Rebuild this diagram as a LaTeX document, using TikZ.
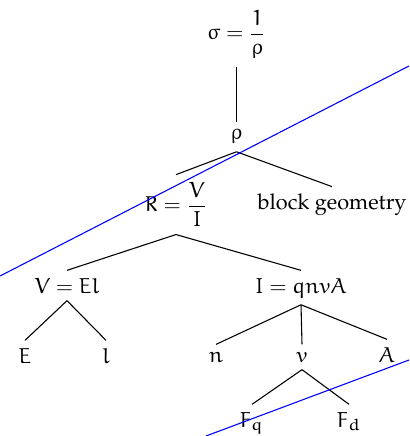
\documentclass[tikz,border=0pt]{standalone}
\usepackage[T1]{fontenc}
\IfFileExists{mathpazo.sty}{\usepackage{mathpazo}}{}
\IfFileExists{euler.sty}{\usepackage{euler}}{}
\begin{document}
\begin{tikzpicture}[x=0.461pt,y=-0.461pt,
  lbl/.style={anchor=base,inner sep=0.3333em},
  edge/.style={draw=black,line width=0.5pt},
  cut/.style={draw=blue,line width=0.5pt}]
\useasboundingbox (0,0) rectangle (409,436);
\node[lbl] (sigma) at (236.5,40) {$\displaystyle\sigma = \frac{1}{\rho}$};
\node[lbl] (rho) at (236.5,140) {$\rho$};
\node[lbl] (R) at (176,212) {$\displaystyle R = \frac{V}{I}$};
\node[lbl] (geo) at (332,210) {block geometry};
\node[lbl] (V) at (67,293) {$V = El$};
\node[lbl] (I) at (301,293) {$I = qnvA$};
\node[lbl] (E) at (25,363) {$E$};
\node[lbl] (l) at (106,363) {$l$};
\node[lbl] (n) at (216,362) {$n$};
\node[lbl] (v) at (302,362) {$v$};
\node[lbl] (A) at (387,362) {$A$};
\node[lbl] (Fq) at (252,427) {$F_q$};
\node[lbl] (Fd) at (349,427) {$F_d$};
\draw[edge] (sigma.south) -- (rho.north);
\draw[edge] (rho.south) -- (R.north);
\draw[edge] (rho.south) -- (geo.north);
\draw[edge] (R.south) -- (V.north);
\draw[edge] (R.south) -- (I.north);
\draw[edge] (V.south) -- (E.north);
\draw[edge] (V.south) -- (l.north);
\draw[edge] (I.south) -- (n.north);
\draw[edge] (I.south) -- (v.north);
\draw[edge] (I.south) -- (A.north);
\draw[edge] (v.south) -- (Fq.north);
\draw[edge] (v.south) -- (Fd.north);
\coordinate (c1a) at (0,276);
\coordinate (c1b) at (409,66);
\coordinate (c2a) at (206,436);
\coordinate (c2b) at (409,360);
\draw[cut] (c1a) -- (c1b);
\draw[cut] (c2a) -- (c2b);
\end{tikzpicture}
\end{document}
